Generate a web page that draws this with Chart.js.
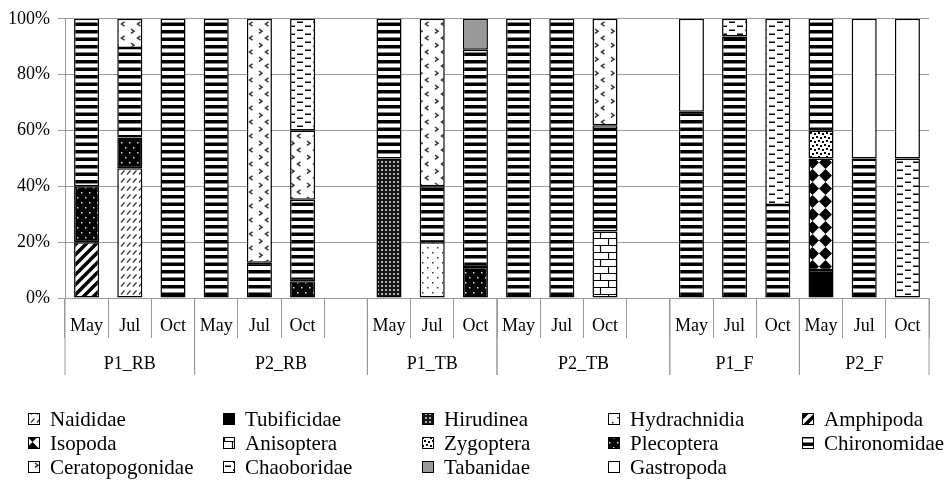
<!DOCTYPE html>
<html>
<head>
<meta charset="utf-8">
<script src="https://cdn.jsdelivr.net/npm/chart.js@4.4.1/dist/chart.umd.min.js"></script>
<style>
  body { margin: 0; background: #fff; font-family: "Liberation Serif", "Times New Roman", serif; }
  #contenedor { width: 946px; height: 481px; }
</style>
</head>
<body>
<div id="contenedor"><canvas id="graficaTaxa"></canvas></div>
<script>
// Categorias del eje X (20 posiciones, 2 vacias entre bloques)
const meses = ['May','Jul','Oct','May','Jul','Oct','','May','Jul','Oct','May','Jul','Oct','','May','Jul','Oct','May','Jul','Oct'];
const sitios = ['P1_RB','P2_RB','P1_TB','P2_TB','P1_F','P2_F'];
const sitioInicio = [0, 3, 7, 10, 14, 17];
const sitioFin = [2, 6, 9, 13, 16, 19];
const ticksY = [0, 20, 40, 60, 80, 100];

// Porcentajes por taxon
const naididae        = [0, 46.5, 0, 0, 0, 0, 0, 0, 0, 0, 0, 0, 0, 0, 0, 0, 0, 0, 0, 0];
const tubificidae     = [0, 0, 0, 0, 0, 0, 0, 0, 0, 0, 0, 0, 0, 0, 0, 0, 0, 10, 0, 0];
const hirudinea       = [0, 0, 0, 0, 0, 0, 0, 50, 0, 0, 0, 0, 0, 0, 0, 0, 0, 0, 0, 0];
const hydrachnidia    = [0, 0, 0, 0, 0, 0, 0, 0, 20, 0, 0, 0, 0, 0, 0, 0, 0, 0, 0, 0];
const amphipoda       = [20, 0, 0, 0, 0, 0, 0, 0, 0, 0, 0, 0, 0, 0, 0, 0, 0, 0, 0, 0];
const isopoda         = [0, 0, 0, 0, 0, 0, 0, 0, 0, 0, 0, 0, 0, 0, 0, 0, 0, 40, 0, 0];
const anisoptera      = [0, 0, 0, 0, 0, 0, 0, 0, 0, 0, 0, 0, 23.8, 0, 0, 0, 0, 0, 0, 0];
const zygoptera       = [0, 0, 0, 0, 0, 0, 0, 0, 0, 0, 0, 0, 0, 0, 0, 0, 0, 10, 0, 0];
const plecoptera      = [20, 11, 0, 0, 0, 6, 0, 0, 0, 11.1, 0, 0, 0, 0, 0, 0, 0, 0, 0, 0];
const chironomidae    = [60, 32, 100, 100, 12.6, 29.2, 0, 50, 20, 77.8, 100, 100, 38.1, 0, 66.7, 93.7, 33.3, 40, 50, 0];
const ceratopogonidae = [0, 10.5, 0, 0, 87.4, 24.8, 0, 0, 60, 0, 0, 0, 38.1, 0, 0, 0, 0, 0, 0, 0];
const chaoboridae     = [0, 0, 0, 0, 0, 40, 0, 0, 0, 0, 0, 0, 0, 0, 0, 6.3, 66.7, 0, 0, 50];
const tabanidae       = [0, 0, 0, 0, 0, 0, 0, 0, 0, 11.1, 0, 0, 0, 0, 0, 0, 0, 0, 0, 0];
const gastropoda      = [0, 0, 0, 0, 0, 0, 0, 0, 0, 0, 0, 0, 0, 0, 33.3, 0, 0, 0, 50, 50];

const FUENTE = '"Liberation Serif", "Times New Roman", serif';

const canvas = document.getElementById('graficaTaxa');
const ctx = canvas.getContext('2d');

// Tramas en blanco y negro
function trama(w, h, dibujar) {
    const c = document.createElement('canvas');
    c.width = w; c.height = h;
    const g = c.getContext('2d');
    g.fillStyle = '#fff';
    g.fillRect(0, 0, w, h);
    dibujar(g);
    return ctx.createPattern(c, 'repeat');
}

const tramas = {
    diagonalCorta: trama(6, 8, g => {
        g.strokeStyle = '#333'; g.lineWidth = 1.2;
        g.beginPath(); g.moveTo(1, 6.5); g.lineTo(4.5, 2.5); g.stroke();
    }),
    ladrillos: trama(16, 14, g => {
        g.strokeStyle = '#000'; g.lineWidth = 1.2;
        g.beginPath();
        g.moveTo(0, 0.5); g.lineTo(16, 0.5);
        g.moveTo(0, 7.5); g.lineTo(16, 7.5);
        g.moveTo(0.5, 0); g.lineTo(0.5, 7.5);
        g.moveTo(8.5, 7.5); g.lineTo(8.5, 14);
        g.stroke();
    }),
    rejillaFina: trama(4, 4, g => {
        g.fillStyle = '#151515'; g.fillRect(0, 0, 4, 4);
        g.fillStyle = '#b0b0b0'; g.fillRect(1, 1, 2, 2);
    }),
    puntos: trama(10, 10, g => {
        g.fillStyle = '#333';
        g.fillRect(2, 2, 1.5, 1.5); g.fillRect(7, 7, 1.5, 1.5);
    }),
    diagonalAncha: trama(10, 10, g => {
        g.strokeStyle = '#000'; g.lineWidth = 3.5;
        g.beginPath();
        g.moveTo(-1, 11); g.lineTo(11, -1);
        g.moveTo(-3, 3); g.lineTo(3, -3);
        g.moveTo(7, 13); g.lineTo(13, 7);
        g.stroke();
    }),
    diamantes: trama(13, 13, g => {
        g.fillStyle = '#000';
        g.beginPath();
        g.moveTo(6.5, 0); g.lineTo(13, 6.5); g.lineTo(6.5, 13); g.lineTo(0, 6.5);
        g.closePath(); g.fill();
    }),
    confeti: trama(8, 8, g => {
        g.fillStyle = '#000';
        g.fillRect(0, 0, 2, 2); g.fillRect(4, 1, 2, 2);
        g.fillRect(2, 4, 2, 2); g.fillRect(6, 5, 2, 2);
    }),
    negroPuntos: trama(8, 10, g => {
        g.fillStyle = '#000'; g.fillRect(0, 0, 8, 10);
        g.fillStyle = '#ddd';
        g.fillRect(1, 2, 1.5, 1.5); g.fillRect(5, 7, 1.5, 1.5);
    }),
    rayas: trama(8, 15, g => {
        g.fillStyle = '#000'; g.fillRect(0, 0, 8, 15);
        g.fillStyle = '#fff';
        g.fillRect(0, 3.5, 8, 4); g.fillRect(0, 11, 8, 4);
    }),
    angulos: trama(16, 14, g => {
        g.strokeStyle = '#333'; g.lineWidth = 1.5;
        g.beginPath();
        g.moveTo(3, 1); g.lineTo(6, 3.2); g.lineTo(3, 5.4);
        g.moveTo(12.5, 7.8); g.lineTo(9.5, 10); g.lineTo(12.5, 12.2);
        g.stroke();
    }),
    guiones: trama(16, 8, g => {
        g.fillStyle = '#000';
        g.fillRect(1, 1.5, 6, 1.5); g.fillRect(9, 5.5, 6, 1.5);
    })
};

const taxa = [
    { label: 'Naididae', data: naididae, fondo: tramas.diagonalCorta },
    { label: 'Tubificidae', data: tubificidae, fondo: '#000' },
    { label: 'Hirudinea', data: hirudinea, fondo: tramas.rejillaFina },
    { label: 'Hydrachnidia', data: hydrachnidia, fondo: tramas.puntos },
    { label: 'Amphipoda', data: amphipoda, fondo: tramas.diagonalAncha },
    { label: 'Isopoda', data: isopoda, fondo: tramas.diamantes },
    { label: 'Anisoptera', data: anisoptera, fondo: tramas.ladrillos },
    { label: 'Zygoptera', data: zygoptera, fondo: tramas.confeti },
    { label: 'Plecoptera', data: plecoptera, fondo: tramas.negroPuntos },
    { label: 'Chironomidae', data: chironomidae, fondo: tramas.rayas },
    { label: 'Ceratopogonidae', data: ceratopogonidae, fondo: tramas.angulos },
    { label: 'Chaoboridae', data: chaoboridae, fondo: tramas.guiones },
    { label: 'Tabanidae', data: tabanidae, fondo: '#999' },
    { label: 'Gastropoda', data: gastropoda, fondo: '#fff' }
];

// Etiquetas de sitio (segundo nivel del eje X)
const pluginSitios = {
    id: 'sitios',
    afterDraw(chart) {
        const x = chart.scales.x;
        const c = chart.ctx;
        const medio = (x.getPixelForValue(1) - x.getPixelForValue(0)) / 2;
        c.save();
        c.strokeStyle = '#999';
        c.lineWidth = 1;
        c.font = '18px ' + FUENTE;
        c.fillStyle = '#000';
        c.textAlign = 'center';
        c.textBaseline = 'middle';
        sitios.forEach((s, i) => {
            const izq = x.getPixelForValue(sitioInicio[i]) - medio;
            const der = x.getPixelForValue(sitioFin[i]) + medio;
            c.beginPath();
            c.moveTo(izq, x.top); c.lineTo(izq, x.top + 77);
            c.moveTo(der, x.top); c.lineTo(der, x.top + 77);
            c.stroke();
            c.fillText(s, (izq + der) / 2, x.top + 66);
        });
        c.restore();
    }
};

// Leyenda en rejilla de 5 columnas
const pluginLeyenda = {
    id: 'leyendaRejilla',
    afterDraw(chart) {
        const c = chart.ctx;
        const colX = [50, 245, 444, 630, 824];
        const filaY = [419, 443, 467];
        c.save();
        c.font = '21px ' + FUENTE;
        c.textBaseline = 'middle';
        c.textAlign = 'left';
        chart.data.datasets.forEach((ds, i) => {
            const tx = colX[i % 5];
            const ty = filaY[Math.floor(i / 5)];
            c.fillStyle = ds.backgroundColor;
            c.fillRect(tx - 22, ty - 6, 12, 12);
            c.strokeStyle = '#000';
            c.lineWidth = 1;
            c.strokeRect(tx - 21.5, ty - 5.5, 11, 11);
            c.fillStyle = '#000';
            c.fillText(ds.label, tx, ty + 1);
        });
        c.restore();
    }
};

function dibujar() {
    new Chart(ctx, {
        type: 'bar',
        data: {
            labels: meses,
            datasets: taxa.map(t => ({
                label: t.label,
                data: t.data.map(v => v === 0 ? null : v),
                backgroundColor: t.fondo,
                borderColor: '#000',
                borderWidth: 1.5,
                borderSkipped: false,
                barPercentage: 0.58,
                categoryPercentage: 1
            }))
        },
        options: {
            responsive: true,
            maintainAspectRatio: false,
            animation: false,
            events: [],
            layout: { padding: { top: 17.7, right: 17, left: 0, bottom: 0 } },
            plugins: {
                legend: { display: false },
                tooltip: { enabled: false }
            },
            scales: {
                x: {
                    stacked: true,
                    afterFit: s => { s.height = 183; },
                    grid: {
                        offset: true,
                        drawOnChartArea: false,
                        drawTicks: true,
                        tickLength: 40,
                        color: '#999'
                    },
                    border: { color: '#999' },
                    ticks: {
                        autoSkip: false,
                        maxRotation: 0,
                        padding: -23,
                        color: '#000',
                        font: { family: FUENTE, size: 18 }
                    }
                },
                y: {
                    stacked: true,
                    min: 0,
                    max: 100,
                    afterFit: s => { s.width = 65; },
                    afterBuildTicks: s => { s.ticks = ticksY.map(v => ({ value: v })); },
                    grid: { color: '#999', tickLength: 7 },
                    border: { color: '#999' },
                    ticks: {
                        padding: 8,
                        color: '#000',
                        font: { family: FUENTE, size: 18 },
                        callback: v => v + '%'
                    }
                }
            }
        },
        plugins: [pluginSitios, pluginLeyenda]
    });
}

// Esperamos a la fuente antes de pintar
if (document.fonts && document.fonts.load) {
    Promise.all([
        document.fonts.load('18px "Liberation Serif"'),
        document.fonts.load('21px "Liberation Serif"')
    ]).then(dibujar, dibujar);
} else {
    dibujar();
}
</script>
</body>
</html>
